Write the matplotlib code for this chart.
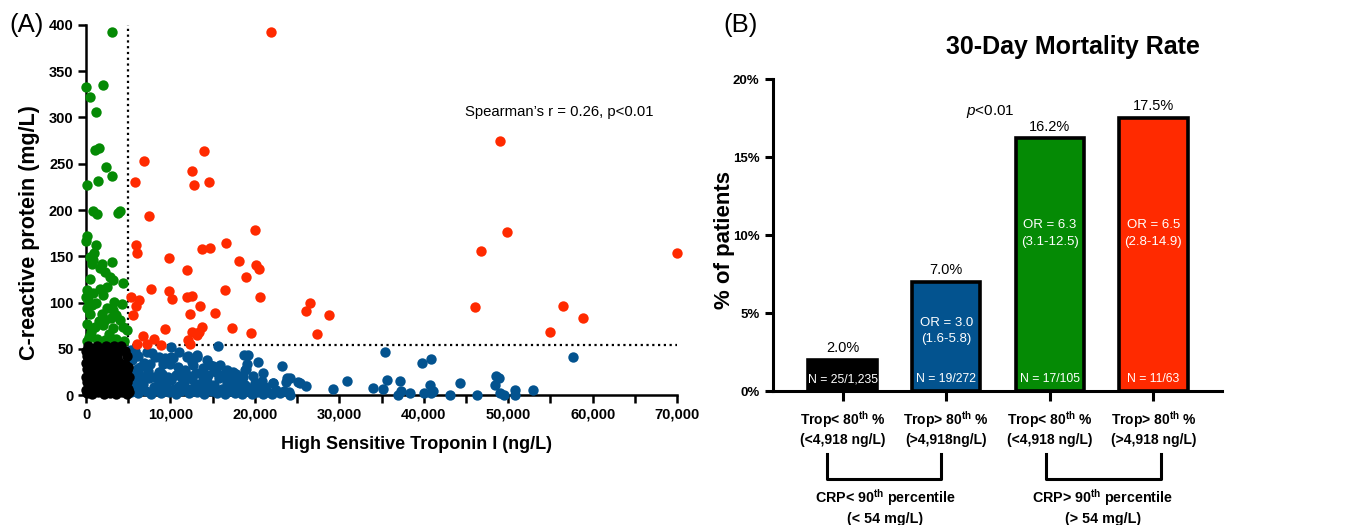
import matplotlib
matplotlib.use("Agg")
import matplotlib.pyplot as plt
from matplotlib.ticker import MultipleLocator
import matplotlib.transforms as mtransforms

REG = ['Liberation Sans', 'DejaVu Sans']

plt.rcParams['font.family'] = REG
plt.rcParams['mathtext.fontset'] = 'custom'
plt.rcParams['mathtext.rm'] = 'Liberation Sans:bold'
plt.rcParams['mathtext.bf'] = 'Liberation Sans:bold'
plt.rcParams['mathtext.it'] = 'Liberation Sans:italic'

# ---- panel A data: (troponin ng/L, CRP mg/L) ----
green_x = [3100, 0, 1970, 470, 1180, 1070, 1540, 2370, 3040, 80, 1420,
           870, 1270, 3800, 4000, 150, 0, 1180, 950, 470, 870, 670, 1860,
           3100, 1660, 2250, 2840, 3230, 4400, 100, 870, 1660, 2050, 2450,
           0, 270, 670, 80, 470, 2450, 3200, 3600, 3000, 2250, 4000, 80,
           1070, 2050, 3200, 4400, 4800, 300, 1300, 2300, 3500, 4500, 100,
           1600, 3900, 600, 2700, 1900, 1200, 3300, 500, 2600, 1500, 4200]
green_y = [392, 333, 335, 322, 306, 265, 267, 246, 237, 227, 231,
           199, 196, 197, 199, 172, 166, 162, 153, 149, 146, 142, 142,
           144, 137, 133, 128, 124, 121, 113, 110, 115, 108, 117,
           106, 103, 97, 94, 88, 94, 92, 86, 83, 81, 81, 77,
           74, 76, 72, 74, 70, 63, 61, 60, 61, 58, 58,
           56, 56, 68, 66, 88, 100, 101, 125, 57, 80, 98]

red_x = [6900, 14000, 12600, 5800, 12800, 14600, 21900, 49000, 46800,
         49800, 70000, 46100, 56500, 58800, 54900, 26500, 26100, 28800,
         27400, 7500, 20000, 5900, 6000, 9870, 13700, 14700, 16600, 18100,
         20100, 20500, 18900, 12000, 7700, 9870, 10150, 5300, 6300, 5900,
         5600, 11900, 12600, 16500, 20600, 13500, 15300, 12300, 9360, 17300,
         13700, 13400, 12500, 13200, 19500, 6700, 8100, 6000, 7200, 8900,
         12100, 12300]
red_y = [253, 264, 242, 230, 227, 230, 392, 275, 156,
         176, 153, 95, 96, 83, 68, 100, 91, 86,
         66, 193, 178, 162, 153, 148, 158, 159, 164, 145,
         141, 136, 128, 135, 115, 112, 104, 106, 103, 96,
         87, 106, 107, 113, 106, 96, 89, 88, 71, 72,
         74, 68, 68, 65, 67, 64, 61, 55, 55, 54,
         59, 55]

blue_x = [35400, 39800, 40800, 57700, 30900, 25300, 26100, 29200, 34000,
          35200, 35600, 37200, 37300, 37000, 38400, 40000, 40700, 41100,
          40900, 43100, 44300, 46300, 48400, 48600, 48900, 49000, 49500,
          50800, 50800, 52900,
          15600, 18700, 20400, 23200, 23800, 23700, 25100, 21000, 22100,
          23400, 24200, 19000, 17400, 18200, 14300, 15100, 15900, 16500,
          13100, 12700, 13900, 11600, 11900, 10100, 10300, 10000, 8600,
          7800, 8600, 9200, 5300, 7200, 8200, 7600, 10100, 12100, 13100,
          11700, 7000, 6200, 7200, 8700, 14700, 16700, 18800, 19100, 19200,
          22200, 24200, 5400, 6200, 6900, 5800, 9400, 10900, 11000,
          5300, 5600, 5900, 6200, 6500, 6800, 7100, 7400, 7700, 8000, 8300,
          8600, 8900, 9200, 9500, 9800, 10100, 10400, 10700, 11000, 11300,
          11600, 11900, 12200, 12500, 12800, 13100, 13400, 13700, 14000,
          14300, 14600, 14900, 15200, 15500, 15800, 16100, 16400, 16700,
          17000, 17300, 17600, 17900, 18200, 18500, 18800, 19100, 19400,
          19700, 20000, 20300, 20600, 20900, 21200, 21600, 22000, 22500,
          23000, 24000, 5500, 6000, 6600, 7300, 8100, 9000, 9700, 10600,
          11400, 12300, 13000, 13800, 14500, 15400, 16200, 17000, 17800,
          18600, 19800, 20800, 6400, 9100, 12600, 15000, 17700, 5200]
blue_y = [46.5, 35, 39, 41, 15, 13, 10, 7, 7.6,
          6.8, 16, 15, 4.6, 0, 1.8, 1.8, 11, 4.3,
          1.8, 0, 13, 0, 10.5, 21, 18.7, 1.8, 0,
          5.4, 0.3, 5.4,
          53, 43, 36, 31, 18, 14, 13.7, 24, 12.6,
          4.6, 0, 27.7, 25, 20, 37.8, 29, 32, 24,
          43, 32, 29, 26, 41, 52, 40, 34, 41,
          45, 25, 20, 49, 47, 41, 34, 41, 42, 41,
          27, 31, 23.5, 22, 25, 32, 27, 27, 34, 43,
          12.6, 18, 38, 42, 35, 48, 40, 30, 46,
          3, 9, 15, 2, 7, 12, 4, 18, 1, 9, 5,
          14, 2, 8, 11, 3, 16, 6, 1, 10, 4,
          13, 7, 2, 17, 9, 3, 12, 6, 1,
          15, 8, 4, 11, 2, 18, 6, 1, 13,
          4, 9, 2, 15, 6, 1, 11, 4, 8,
          1, 13, 3, 6, 1, 9, 3, 1, 5,
          2, 3, 22, 28, 19, 26, 20, 23, 19, 22,
          18, 21, 24, 19, 22, 25, 21, 20, 23,
          19, 21, 15, 30, 33, 36, 31, 12, 24]

black_x = [100, 700, 1400, 2100, 2800, 3500, 4200, 4850,
           350, 1050, 1750, 2450, 3150, 3850, 4550, 5000,
           150, 800, 1500, 2200, 2900, 3600, 4300, 4850,
           400, 1100, 1800, 2500, 3200, 3900, 4600,
           100, 750, 1450, 2150, 2850, 3550, 4250, 4800,
           350, 1050, 1750, 2450, 3150, 3850, 4600, 4950,
           150, 850, 1550, 2250, 2950, 3650, 4800,
           400, 1100, 1800, 2500, 3200, 3900, 4600,
           200, 1300, 2400, 3300, 4100, 0, 0, 0, 0,
           700, 1800, 2900, 4000, 600, 1700, 2700, 3800, 5100, 5100]
black_y = [2, 1, 3, 1, 2, 1, 3, 1,
           8, 9, 7, 8, 9, 7, 8, 6,
           14, 15, 13, 15, 14, 13, 15, 14,
           21, 20, 22, 21, 20, 22, 21,
           28, 27, 29, 28, 27, 29, 28, 27,
           35, 34, 36, 35, 34, 36, 33, 30,
           42, 43, 41, 42, 43, 41, 42,
           49, 48, 50, 49, 48, 50, 48,
           53, 53, 53, 53, 53, 5, 20, 35, 48,
           38, 31, 24, 17, 11, 45, 5, 46, 20, 3]

crp_cut = 54
trop_cut = 4918
a_xticks = [0, 10000, 20000, 30000, 40000, 50000, 60000, 70000]
a_xticklabels = ['0', '10,000', '20,000', '30,000', '40,000', '50,000', '60,000', '70,000']
a_yticks = [0, 50, 100, 150, 200, 250, 300, 350, 400]

# ---- panel B data ----
groups = [r'Trop< 80$^{\mathrm{th}}$ %' + '\n(<4,918 ng/L)',
          r'Trop> 80$^{\mathrm{th}}$ %' + '\n(>4,918ng/L)',
          r'Trop< 80$^{\mathrm{th}}$ %' + '\n(<4,918 ng/L)',
          r'Trop> 80$^{\mathrm{th}}$ %' + '\n(>4,918 ng/L)']
mortality = [2.0, 7.0, 16.2, 17.5]
odds = ['', 'OR = 3.0\n(1.6-5.8)', 'OR = 6.3\n(3.1-12.5)', 'OR = 6.5\n(2.8-14.9)']
counts = ['N = 25/1,235', 'N = 19/272', 'N = 17/105', 'N = 11/63']
bar_colors = ['#000000', '#03538F', '#058A05', '#FF2A00']
crp_groups = [r'CRP< 90$^{\mathrm{th}}$ percentile' + '\n(< 54 mg/L)',
              r'CRP> 90$^{\mathrm{th}}$ percentile' + '\n(> 54 mg/L)']

fig = plt.figure(figsize=(13.55, 5.25), dpi=100)

# ================= panel A =================
ax = fig.add_axes([0.0635, 0.2476, 0.4362, 0.7048])
ax.plot([trop_cut, trop_cut], [0, 400], color='black', lw=1.6, ls=(0, (1, 1.6)), zorder=1)
ax.plot([0, 70000], [crp_cut, crp_cut], color='black', lw=1.6, ls=(0, (1, 1.6)), zorder=1)
kw = dict(s=56, linewidths=0, clip_on=False, zorder=3)
ax.scatter(blue_x, blue_y, color='#03538F', **kw)
ax.scatter(red_x, red_y, color='#FF2A00', **kw)
ax.scatter(green_x, green_y, color='#058A05', **kw)
ax.scatter(black_x, black_y, color='black', **kw)
ax.set_xlim(0, 70000)
ax.set_ylim(0, 400)
ax.set_xticks(a_xticks)
ax.set_xticklabels(a_xticklabels)
ax.xaxis.set_minor_locator(MultipleLocator(5000))
ax.set_yticks(a_yticks)
for s in ['top', 'right']:
    ax.spines[s].set_visible(False)
for s in ['left', 'bottom']:
    ax.spines[s].set_linewidth(1.8)
ax.tick_params(which='major', width=1.8, length=6, labelsize=10.5, pad=3)
ax.tick_params(which='minor', width=1.8, length=6)
for lab in ax.get_xticklabels() + ax.get_yticklabels():
    lab.set_fontweight('bold')
ax.set_xlabel('High Sensitive Troponin I (ng/L)', fontsize=13, fontweight='bold')
ax.xaxis.set_label_coords(0.559, -0.11)
ax.set_ylabel('C-reactive protein (mg/L)', fontsize=15.5, fontweight='bold')
ax.yaxis.set_label_coords(-0.078, 0.44)
ax.text(44900, 306, "Spearman’s r = 0.26, p<0.01", fontsize=10.7, va='center')
fig.text(0.007, 0.952, '(A)', fontsize=18.5, va='center')

# ================= panel B =================
bx = fig.add_axes([0.5703, 0.2552, 0.3314, 0.5943])
pos = list(range(len(mortality)))
bx.bar(pos, mortality, width=0.66, color=bar_colors, edgecolor='black', linewidth=2.6, zorder=2)
bx.set_xlim(-0.674, 3.66)
bx.set_ylim(0, 20)
bx.set_yticks([0, 5, 10, 15, 20])
bx.set_yticklabels(['0%', '5%', '10%', '15%', '20%'])
bx.set_xticks(pos)
bx.set_xticklabels(groups, fontsize=10, fontweight='bold', linespacing=1.25)
for s in ['top', 'right']:
    bx.spines[s].set_visible(False)
for s in ['left', 'bottom']:
    bx.spines[s].set_linewidth(2.2)
bx.tick_params(axis='y', width=2.2, length=6, labelsize=9.5)
bx.tick_params(axis='x', width=2.2, length=7, pad=6)
for lab in bx.get_yticklabels():
    lab.set_fontweight('bold')
bx.set_ylabel('% of patients', fontsize=16, fontweight='bold')
bx.yaxis.set_label_coords(-0.084, 0.484)
fig.text(0.792, 0.910, '30-Day Mortality Rate', fontsize=18, fontweight='bold',
         ha='center', va='center')

or_y = [0, 3.85, 10.1, 10.1]
for i, v in enumerate(mortality):
    bx.text(i, v + 0.75, f'{v:.1f}%', ha='center', va='center', fontsize=10.5)
    bx.text(i, 0.75, counts[i], ha='center', va='center', fontsize=8.8, color='white')
    if odds[i]:
        bx.text(i, or_y[i], odds[i], ha='center', va='center', fontsize=9.5, color='white',
                linespacing=1.5)
bx.text(1.43, 17.9, r'$\mathit{p}$<0.01', ha='center', va='center', fontsize=11)

trans = mtransforms.blended_transform_factory(bx.transData, fig.transFigure)
brackets = [(-0.15, 0.95, 0.41), (1.96, 3.07, 2.51)]
for (x0, x1, xc), lab in zip(brackets, crp_groups):
    bx.plot([x0, x0, x1, x1], [0.135, 0.087, 0.087, 0.135], color='black', lw=2.2,
            transform=trans, clip_on=False)
    bx.text(xc, 0.035, lab, transform=trans, ha='center', va='center', fontsize=10.3,
            fontweight='bold', linespacing=1.4)
fig.text(0.534, 0.952, '(B)', fontsize=18.5, va='center')

fig.savefig('out.png', dpi=100)
